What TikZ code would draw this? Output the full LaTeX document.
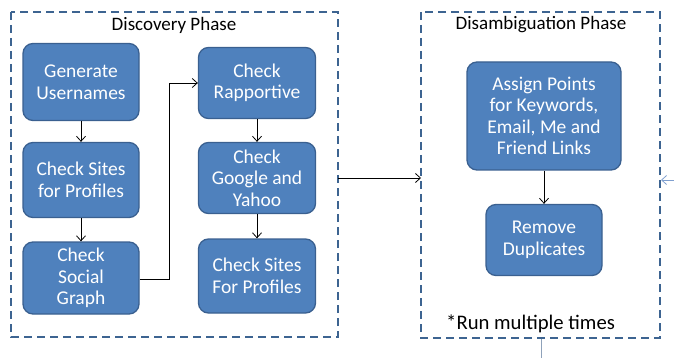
\documentclass[tikz,border=0pt]{standalone}
\usepackage{fontspec}
\setmainfont{Carlito}
\usetikzlibrary{arrows.meta}
\definecolor{boxfill}{HTML}{4F81BD}
\definecolor{boxline}{HTML}{3A6090}
\definecolor{phaseline}{HTML}{3D6491}
\definecolor{sideblue}{HTML}{7F9FCF}
\definecolor{sidegray}{HTML}{8FA2BA}
\tikzset{
  stepbox/.style={draw=boxline, line width=1.3pt, fill=boxfill, rounded corners=10pt,
    text=white, align=center, font=\fontsize{19.5}{21.5}\selectfont, inner sep=0pt},
  phase/.style={draw=phaseline, line width=1.8pt, dash pattern=on 8pt off 5pt},
  conn/.style={draw=black, line width=0.8pt, -{Straight Barb[length=5pt,width=9pt]}},
}
\begin{document}
\begin{tikzpicture}[x=1pt,y=-1pt]
\useasboundingbox (0,0) rectangle (674,358);
% phases
\draw[phase] (11,12) rectangle (338,337);
\draw[phase] (421,12) rectangle (660,338);
\node[font=\fontsize{19}{22}\selectfont] (t1) at (174,25) {Discovery Phase};
\node[font=\fontsize{19}{22}\selectfont] (t2) at (541,25) {Disambiguation Phase};
\coordinate (p1) at (338,178);
\coordinate (p2) at (421,178);
% boxes
\node[stepbox, minimum width=116pt, minimum height=77pt] (gen) at (81,82) {Generate\\Usernames};
\node[stepbox, minimum width=116pt, minimum height=75pt] (sites) at (81,180) {Check Sites\\for Profiles};
\node[stepbox, minimum width=116pt, minimum height=72pt] (social) at (81,278) {Check\\Social\\Graph};
\node[stepbox, minimum width=117pt, minimum height=71pt] (rapp) at (257,83) {Check\\Rapportive};
\node[stepbox, minimum width=117pt, minimum height=71pt] (goog) at (257,178) {Check\\Google and\\Yahoo};
\node[stepbox, minimum width=117pt, minimum height=74pt] (sites2) at (257,276) {Check Sites\\For Profiles};
\node[stepbox, minimum width=154pt, minimum height=108pt] (assign) at (544,116) {Assign Points\\for Keywords,\\Email, Me and\\Friend Links};
\node[stepbox, minimum width=116pt, minimum height=71pt] (dup) at (544,240) {Remove\\Duplicates};
\node[font=\fontsize{20.7}{24}\selectfont, anchor=west, inner sep=0pt] (note) at (446,324) {*Run multiple times};
% connectors
\draw[conn] (gen) -- (sites);
\draw[conn] (sites) -- (social);
\draw[conn] (social.east |- 0,279) -- (169,279) -- (169,83) -- (rapp.west);
\draw[conn] (rapp) -- (goog);
\draw[conn] (goog) -- (sites2);
\draw[conn] (p1) -- (p2);
\draw[conn] (assign) -- (dup);
\coordinate (r1) at (674,180);
\coordinate (r2) at (661,180);
\draw[sideblue, line width=0.8pt, -{Straight Barb[length=5pt,width=9pt]}] (r1) -- (r2);
\coordinate (b1) at (541,339);
\coordinate (b2) at (541,358);
\draw[sidegray, line width=1pt] (b1) -- (b2);
\end{tikzpicture}
\end{document}
